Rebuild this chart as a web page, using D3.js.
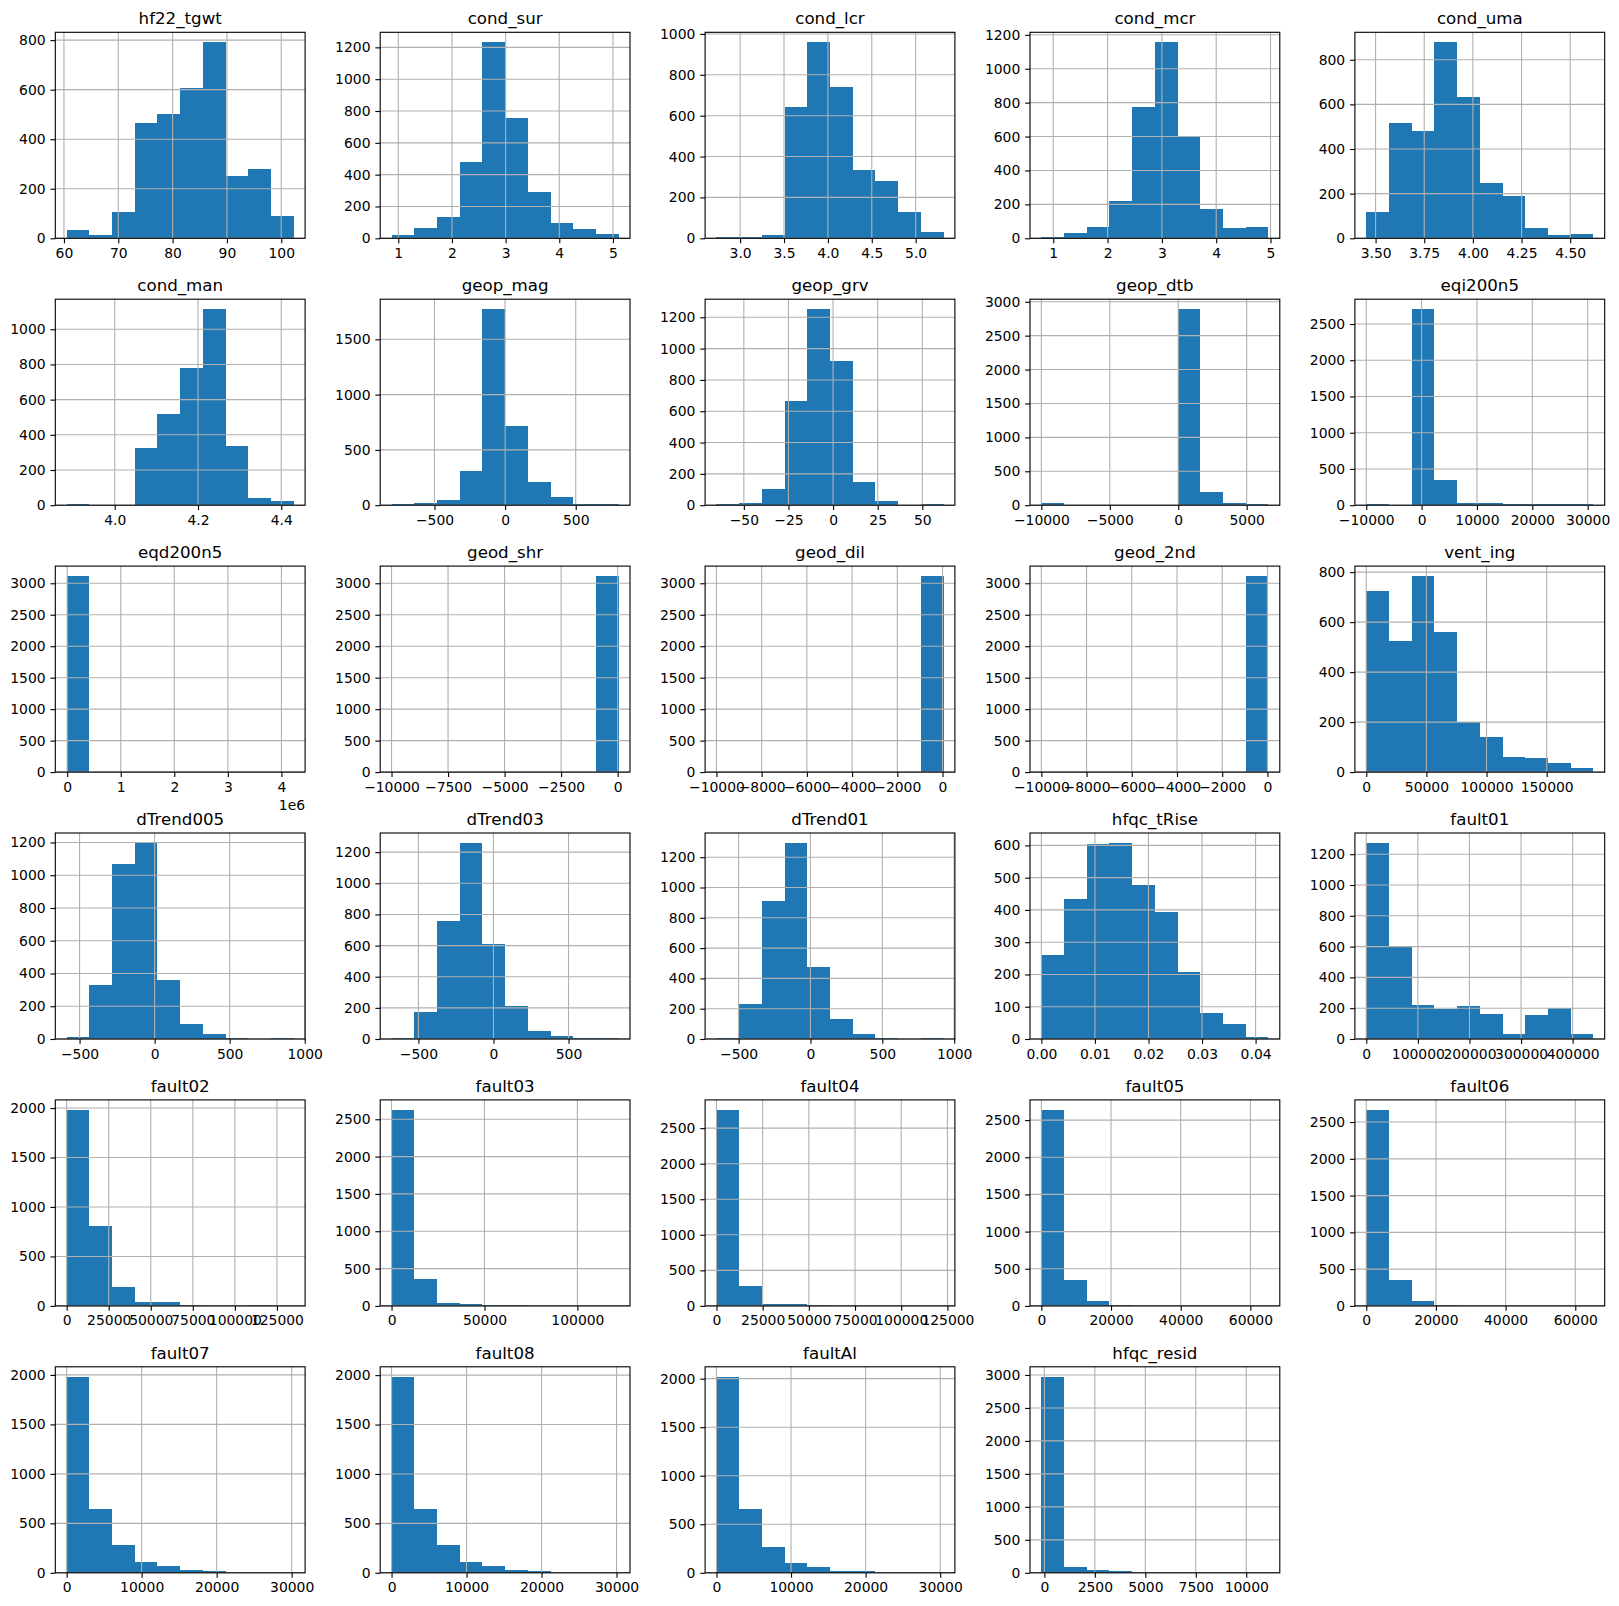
<!DOCTYPE html>
<html><head><meta charset="utf-8">
<script src="https://cdn.jsdelivr.net/npm/d3@7"></script>
<style>
body{margin:0;background:#fff;}
svg{display:block;}
text{font-family:"DejaVu Sans",sans-serif;fill:#000;}
</style>
</head><body>
<svg id="chart" width="1619" height="1606"></svg>
<script>
const titles = ["hf22_tgwt","cond_sur","cond_lcr","cond_mcr","cond_uma",
  "cond_man","geop_mag","geop_grv","geop_dtb","eqi200n5",
  "eqd200n5","geod_shr","geod_dil","geod_2nd","vent_ing",
  "dTrend005","dTrend03","dTrend01","hfqc_tRise","fault01",
  "fault02","fault03","fault04","fault05","fault06",
  "fault07","fault08","faultAl","hfqc_resid"];

const binMin = [60.5, 0.875, 2.73, 0.781, 3.452,
  3.8845, -804, -65.35, -9999, -9999,
  -9999, -9999, -9999, -9999, 0,
  -586, -679, -654, 0, 0,
  0, 0, 0, 0, 0,
  0, 0, 0, -150];

const binMax = [102.3, 5.106, 5.318, 4.962, 4.619,
  4.430, 804, 61.9, 6590, 31028,
  4230000, 45, 45, 45, 188800,
  927, 834, 926, 0.0424, 440100,
  135000, 122200, 122900, 65185, 65185,
  30280, 30280, 30450, 11100];

const counts = [
  [33, 12, 106, 464, 501, 605, 792, 251, 280, 90],
  [21, 65, 134, 480, 1233, 756, 291, 96, 59, 27],
  [5, 5, 16, 642, 960, 740, 334, 280, 129, 31],
  [8, 31, 67, 220, 774, 1157, 601, 173, 59, 67],
  [118, 516, 480, 879, 633, 248, 190, 46, 15, 19],
  [6, 0, 0, 326, 519, 780, 1115, 337, 42, 25],
  [12, 21, 48, 310, 1774, 717, 211, 75, 12, 12],
  [8, 15, 104, 666, 1253, 921, 149, 28, 0, 8],
  [34, 0, 0, 0, 0, 0, 2893, 196, 34, 20],
  [14, 0, 2707, 349, 32, 32, 14, 12, 12, 12],
  [3117, 0, 0, 0, 0, 0, 0, 0, 0, 1],
  [2, 0, 0, 0, 0, 0, 0, 0, 0, 3117],
  [2, 0, 0, 0, 0, 0, 0, 0, 0, 3117],
  [2, 0, 0, 0, 0, 0, 0, 0, 0, 3117],
  [725, 524, 785, 560, 202, 142, 62, 58, 38, 17],
  [12, 328, 1071, 1198, 358, 94, 33, 8, 0, 8],
  [9, 176, 757, 1260, 609, 215, 54, 22, 9, 9],
  [9, 228, 910, 1295, 473, 135, 35, 9, 0, 9],
  [260, 434, 605, 608, 478, 394, 207, 82, 48, 7],
  [1274, 596, 224, 196, 217, 165, 35, 159, 204, 35],
  [1983, 805, 196, 44, 44, 14, 0, 0, 14, 1],
  [2628, 354, 45, 31, 18, 18, 0, 0, 0, 1],
  [2759, 273, 33, 33, 19, 0, 0, 0, 0, 1],
  [2640, 342, 72, 18, 0, 0, 0, 0, 0, 1],
  [2668, 346, 73, 18, 0, 0, 0, 0, 0, 1],
  [1983, 643, 277, 105, 64, 24, 14, 3, 0, 1],
  [1985, 645, 277, 105, 64, 24, 14, 3, 0, 1],
  [2021, 655, 262, 97, 55, 14, 14, 0, 0, 1],
  [2975, 81, 36, 20, 0, 0, 0, 0, 0, 1]
];

const xTickValues = [
  [60,70,80,90,100],
  [1,2,3,4,5],
  [3.0,3.5,4.0,4.5,5.0],
  [1,2,3,4,5],
  [3.5,3.75,4.0,4.25,4.5],
  [4.0,4.2,4.4],
  [-500,0,500],
  [-50,-25,0,25,50],
  [-10000,-5000,0,5000],
  [-10000,0,10000,20000,30000],
  [0,1e6,2e6,3e6,4e6],
  [-10000,-7500,-5000,-2500,0],
  [-10000,-8000,-6000,-4000,-2000,0],
  [-10000,-8000,-6000,-4000,-2000,0],
  [0,50000,100000,150000],
  [-500,0,500,1000],
  [-500,0,500],
  [-500,0,500,1000],
  [0,0.01,0.02,0.03,0.04],
  [0,100000,200000,300000,400000],
  [0,25000,50000,75000,100000,125000],
  [0,50000,100000],
  [0,25000,50000,75000,100000,125000],
  [0,20000,40000,60000],
  [0,20000,40000,60000],
  [0,10000,20000,30000],
  [0,10000,20000,30000],
  [0,10000,20000,30000],
  [0,2500,5000,7500,10000]
];

const xTickLabels = [
  ["60","70","80","90","100"],
  ["1","2","3","4","5"],
  ["3.0","3.5","4.0","4.5","5.0"],
  ["1","2","3","4","5"],
  ["3.50","3.75","4.00","4.25","4.50"],
  ["4.0","4.2","4.4"],
  ["−500","0","500"],
  ["−50","−25","0","25","50"],
  ["−10000","−5000","0","5000"],
  ["−10000","0","10000","20000","30000"],
  ["0","1","2","3","4"],
  ["−10000","−7500","−5000","−2500","0"],
  ["−10000","−8000","−6000","−4000","−2000","0"],
  ["−10000","−8000","−6000","−4000","−2000","0"],
  ["0","50000","100000","150000"],
  ["−500","0","500","1000"],
  ["−500","0","500"],
  ["−500","0","500","1000"],
  ["0.00","0.01","0.02","0.03","0.04"],
  ["0","100000","200000","300000","400000"],
  ["0","25000","50000","75000","100000","125000"],
  ["0","50000","100000"],
  ["0","25000","50000","75000","100000","125000"],
  ["0","20000","40000","60000"],
  ["0","20000","40000","60000"],
  ["0","10000","20000","30000"],
  ["0","10000","20000","30000"],
  ["0","10000","20000","30000"],
  ["0","2500","5000","7500","10000"]
];

const yTickValues = [
  [0,200,400,600,800],
  [0,200,400,600,800,1000,1200],
  [0,200,400,600,800,1000],
  [0,200,400,600,800,1000,1200],
  [0,200,400,600,800],
  [0,200,400,600,800,1000],
  [0,500,1000,1500],
  [0,200,400,600,800,1000,1200],
  [0,500,1000,1500,2000,2500,3000],
  [0,500,1000,1500,2000,2500],
  [0,500,1000,1500,2000,2500,3000],
  [0,500,1000,1500,2000,2500,3000],
  [0,500,1000,1500,2000,2500,3000],
  [0,500,1000,1500,2000,2500,3000],
  [0,200,400,600,800],
  [0,200,400,600,800,1000,1200],
  [0,200,400,600,800,1000,1200],
  [0,200,400,600,800,1000,1200],
  [0,100,200,300,400,500,600],
  [0,200,400,600,800,1000,1200],
  [0,500,1000,1500,2000],
  [0,500,1000,1500,2000,2500],
  [0,500,1000,1500,2000,2500],
  [0,500,1000,1500,2000,2500],
  [0,500,1000,1500,2000,2500],
  [0,500,1000,1500,2000],
  [0,500,1000,1500,2000],
  [0,500,1000,1500,2000],
  [0,500,1000,1500,2000,2500,3000]
];

const offsetLabels = {10: "1e6"};

const nCols = 5;
const colLeft0 = 55.3, colPitch = 324.9, panelW = 249.8;
const rowTop0 = 32.3, rowPitch = 266.9, panelH = 206;
const barColor = "#1f77b4", gridColor = "#b0b0b0";
const lw = 1.11, tickLen = 4.86, tickPad = 4.86;
const tickFont = 13.9, titleFont = 16.67;

const svg = d3.select("#chart");
svg.append("rect").attr("width",1619).attr("height",1606).attr("fill","#fff");

titles.forEach((title, k) => {
  const col = k % nCols, row = Math.floor(k / nCols);
  const left = colLeft0 + col * colPitch;
  const top = rowTop0 + row * rowPitch;
  const lo = binMin[k], hi = binMax[k], R = hi - lo;
  const cnt = counts[k];
  const nb = cnt.length;
  const edges = d3.range(nb + 1).map(i => lo + R * i / nb);
  const x = d3.scaleLinear().domain([lo - 0.05 * R, hi + 0.05 * R]).range([0, panelW]);
  const y = d3.scaleLinear().domain([0, d3.max(cnt) * 1.05]).range([panelH, 0]);

  const g = svg.append("g").attr("transform", `translate(${left},${top})`);

  g.append("g").selectAll("rect").data(cnt).join("rect")
    .attr("x", (d, i) => x(edges[i]))
    .attr("width", (d, i) => x(edges[i + 1]) - x(edges[i]))
    .attr("y", d => y(d))
    .attr("height", d => y(0) - y(d))
    .attr("fill", barColor)
    .attr("shape-rendering", "crispEdges");

  const xd = x.domain(), yd = y.domain();
  const xt = xTickValues[k].map((v, i) => ({v, l: xTickLabels[k][i]}))
    .filter(t => t.v >= xd[0] && t.v <= xd[1]);
  const yt = yTickValues[k].filter(v => v >= yd[0] && v <= yd[1]);

  const grid = g.append("g");
  grid.selectAll("line.gx").data(xt).join("line").attr("class","gx")
    .attr("x1", t => x(t.v)).attr("x2", t => x(t.v))
    .attr("y1", 0).attr("y2", panelH)
    .attr("stroke", gridColor).attr("stroke-width", lw);
  grid.selectAll("line.gy").data(yt).join("line").attr("class","gy")
    .attr("x1", 0).attr("x2", panelW)
    .attr("y1", v => y(v)).attr("y2", v => y(v))
    .attr("stroke", gridColor).attr("stroke-width", lw);

  const labelMap = new Map(xt.map(t => [t.v, t.l]));
  const xAxis = d3.axisBottom(x).tickValues(xt.map(t => t.v))
    .tickFormat(v => labelMap.get(v)).tickSize(tickLen).tickSizeOuter(0).tickPadding(tickPad);
  const yAxis = d3.axisLeft(y).tickValues(yt).tickFormat(d3.format("d"))
    .tickSize(tickLen).tickSizeOuter(0).tickPadding(tickPad);

  const gx = g.append("g").attr("transform", `translate(0,${panelH})`).call(xAxis);
  const gy = g.append("g").call(yAxis);
  [gx, gy].forEach(a => {
    a.select(".domain").remove();
    a.selectAll(".tick line").attr("stroke", "#000").attr("stroke-width", lw);
    a.selectAll(".tick text").attr("font-size", tickFont)
      .attr("font-family", "'DejaVu Sans', sans-serif").attr("fill", "#000");
  });

  g.append("rect").attr("x", 0).attr("y", 0).attr("width", panelW).attr("height", panelH)
    .attr("fill", "none").attr("stroke", "#000").attr("stroke-width", lw);

  g.append("text").attr("x", panelW / 2).attr("y", -8.3)
    .attr("text-anchor", "middle").attr("font-size", titleFont).text(title);

  if (offsetLabels[k]) {
    g.append("text").attr("x", panelW).attr("y", panelH + 38)
      .attr("text-anchor", "end").attr("font-size", tickFont).text(offsetLabels[k]);
  }
});
</script>
</body></html>
